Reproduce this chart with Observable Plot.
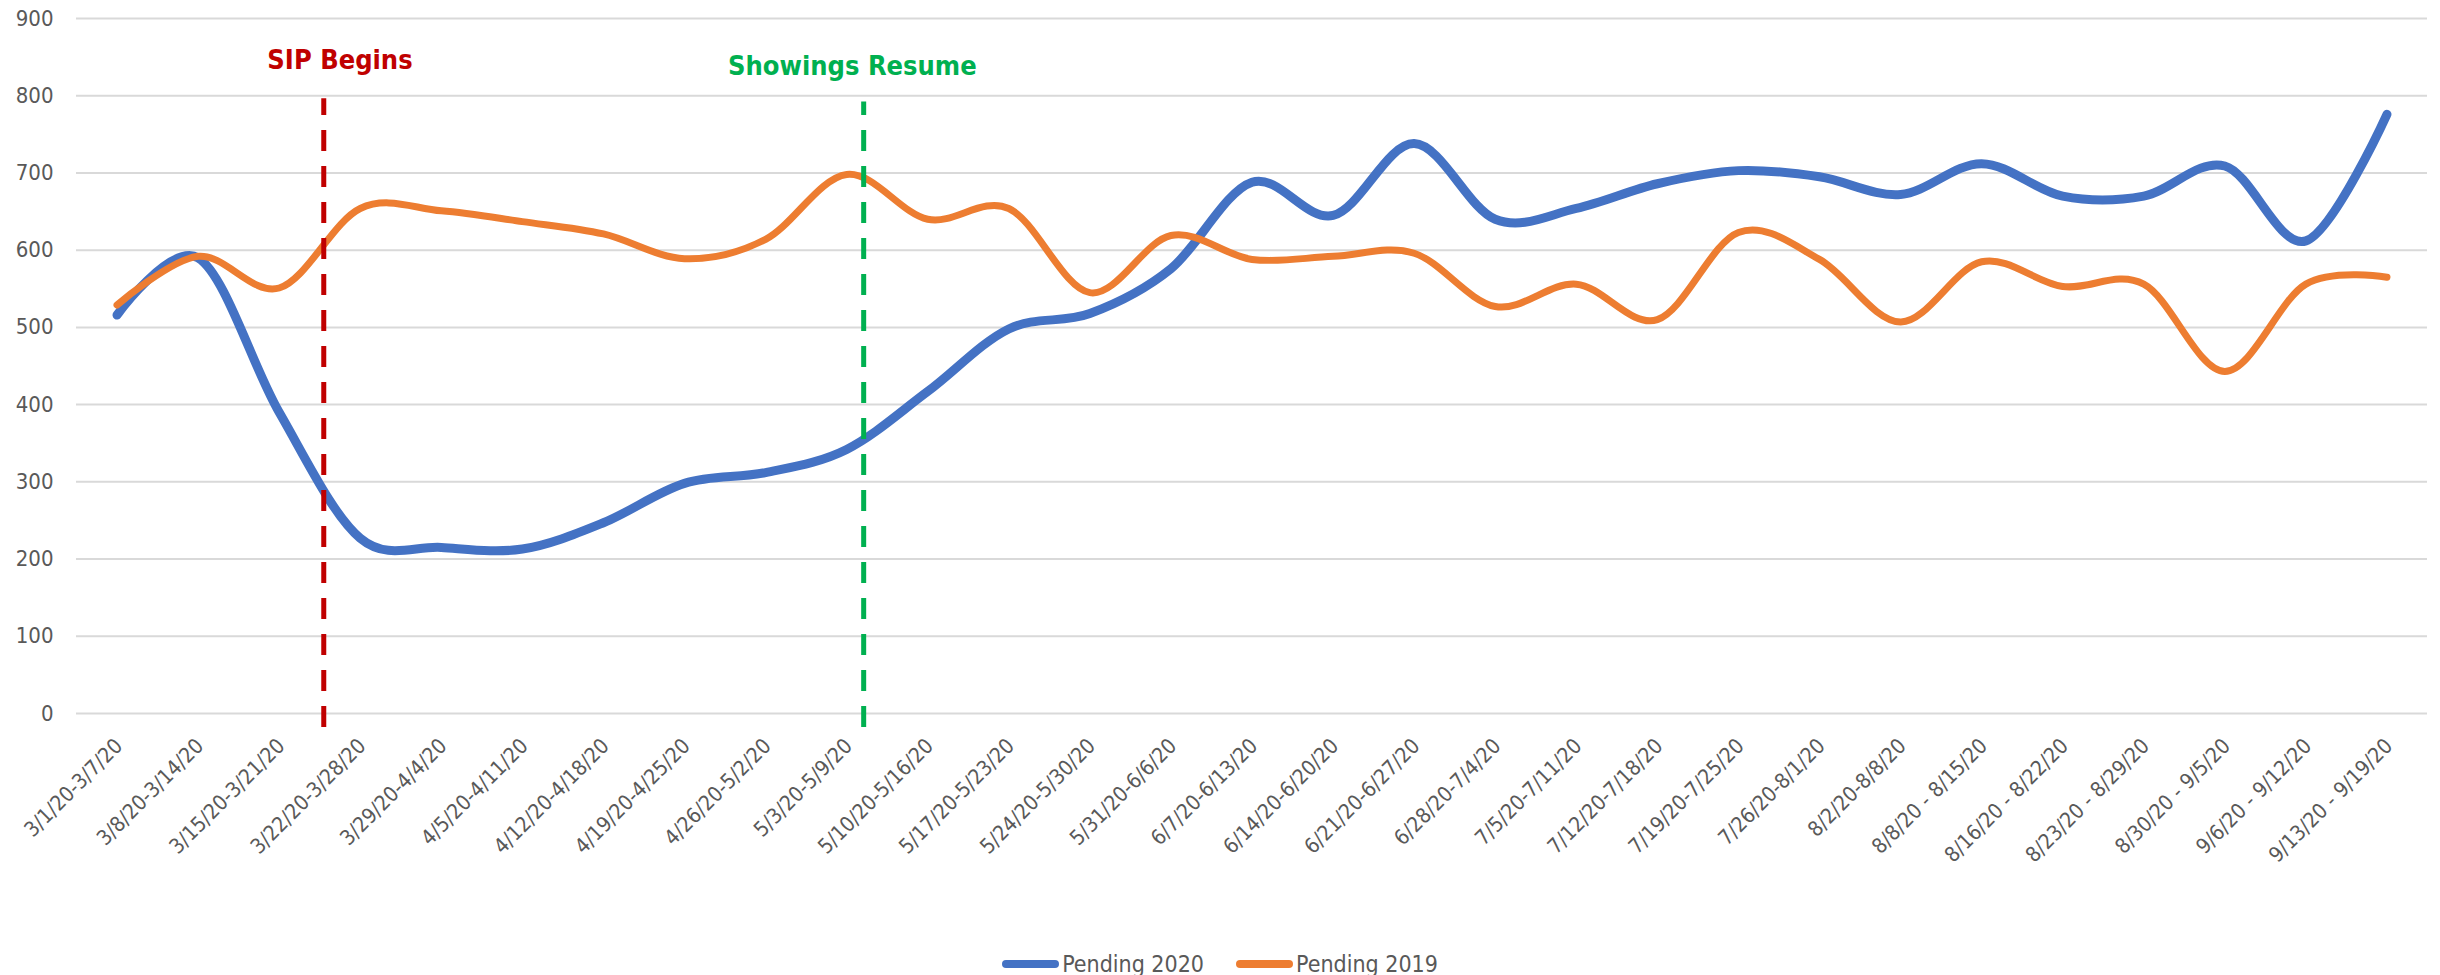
<!DOCTYPE html>
<html><head><meta charset="utf-8">
<script src="https://cdn.jsdelivr.net/npm/d3@7"></script>
<script src="https://cdn.jsdelivr.net/npm/@observablehq/plot@0.6"></script>
<style>
html,body{margin:0;padding:0;background:#fff;}
body{width:2440px;height:975px;overflow:hidden;font-family:"DejaVu Sans Condensed","DejaVu Sans",sans-serif;}
#legend{display:flex;justify-content:center;align-items:center;margin-top:22px;font-size:23px;color:#595959;line-height:24px;}
.item{display:flex;align-items:center;margin:0 16px;}
.sw{width:57px;height:8px;border-radius:4px;margin-right:3px;}
</style></head>
<body>
<div id="chart"></div>
<div id="legend"></div>
<script>
const weeks = [
  "3/1/20-3/7/20","3/8/20-3/14/20","3/15/20-3/21/20","3/22/20-3/28/20","3/29/20-4/4/20",
  "4/5/20-4/11/20","4/12/20-4/18/20","4/19/20-4/25/20","4/26/20-5/2/20","5/3/20-5/9/20",
  "5/10/20-5/16/20","5/17/20-5/23/20","5/24/20-5/30/20","5/31/20-6/6/20","6/7/20-6/13/20",
  "6/14/20-6/20/20","6/21/20-6/27/20","6/28/20-7/4/20","7/5/20-7/11/20","7/12/20-7/18/20",
  "7/19/20-7/25/20","7/26/20-8/1/20","8/2/20-8/8/20","8/8/20 - 8/15/20","8/16/20 - 8/22/20",
  "8/23/20 - 8/29/20","8/30/20 - 9/5/20","9/6/20 - 9/12/20","9/13/20 - 9/19/20"
];
const pending2020 = [516,590,390,227,215,213,247,298,312,342,417,498,518,576,688,645,738,640,654,686,703,695,672,712,670,670,709,612,776];
const pending2019 = [529,592,551,654,651,637,621,589,614,698,640,654,545,619,588,592,596,527,556,510,623,588,507,585,553,556,443,556,565];
const yTicks = [0,100,200,300,400,500,600,700,800,900];
const seriesNames = ["Pending 2020","Pending 2019"];
const eventNames = ["SIP Begins","Showings Resume"];
const eventWeek = [2.55, 9.21];      // position along the week axis
const eventLabelWeek = [2.75, 9.07];
const eventLabelValue = [846, 838];
const eventTop = [796, 792];
const eventBottom = [-18, -18];

const colors = ["#4472C4","#ED7D31"];
const eventColors = ["#C00000","#00B050"];

const rows2020 = pending2020.map((v,i)=>({i, v}));
const rows2019 = pending2019.map((v,i)=>({i, v}));
const events = eventNames.map((name,k)=>({name, x:eventWeek[k], lx:eventLabelWeek[k], ly:eventLabelValue[k], y1:eventBottom[k], y2:eventTop[k], color:eventColors[k]}));

const font = '"DejaVu Sans Condensed","DejaVu Sans",sans-serif';
const chart = Plot.plot({
  width: 2440, height: 930,
  marginLeft: 76, marginRight: 13, marginTop: 18, marginBottom: 217,
  style: {fontFamily: font, fontSize: "22px", color: "#595959", background: "white", overflow: "visible"},
  x: {type: "linear", domain: [-0.5, weeks.length - 0.5]},
  y: {domain: [0, 900]},
  marks: [
    Plot.gridY(yTicks, {stroke: "#D9D9D9", strokeOpacity: 1, strokeWidth: 2}),
    Plot.axisY(yTicks, {tickSize: 0, tickPadding: 23, fontSize: 22, fill: "#595959", label: null}),
    Plot.axisX(d3.range(weeks.length), {tickSize: 0, tickPadding: 21, dy: 8, dx: 2, tickRotate: -45, tickFormat: i => weeks[i], fontSize: 21, fill: "#595959", label: null}),
    Plot.line(rows2020, {x: "i", y: "v", stroke: colors[0], strokeWidth: 9, curve: "cardinal", strokeLinecap: "round", strokeLinejoin: "round"}),
    Plot.line(rows2019, {x: "i", y: "v", stroke: colors[1], strokeWidth: 7, curve: "cardinal", strokeLinecap: "round", strokeLinejoin: "round"}),
    Plot.ruleX(events, {x: "x", y1: "y1", y2: "y2", stroke: d => d.color, strokeWidth: 5, strokeDasharray: "21,15"}),
    Plot.text(events, {x: "lx", y: "ly", text: "name", fill: d => d.color, fontWeight: "bold", fontSize: 27})
  ]
});
document.getElementById("chart").appendChild(chart);

const legend = document.getElementById("legend");
seriesNames.forEach((name,k)=>{
  const it = document.createElement("div"); it.className = "item";
  const sw = document.createElement("div"); sw.className = "sw"; sw.style.background = colors[k];
  const t = document.createElement("span"); t.textContent = name;
  it.appendChild(sw); it.appendChild(t); legend.appendChild(it);
});
</script>
</body></html>
